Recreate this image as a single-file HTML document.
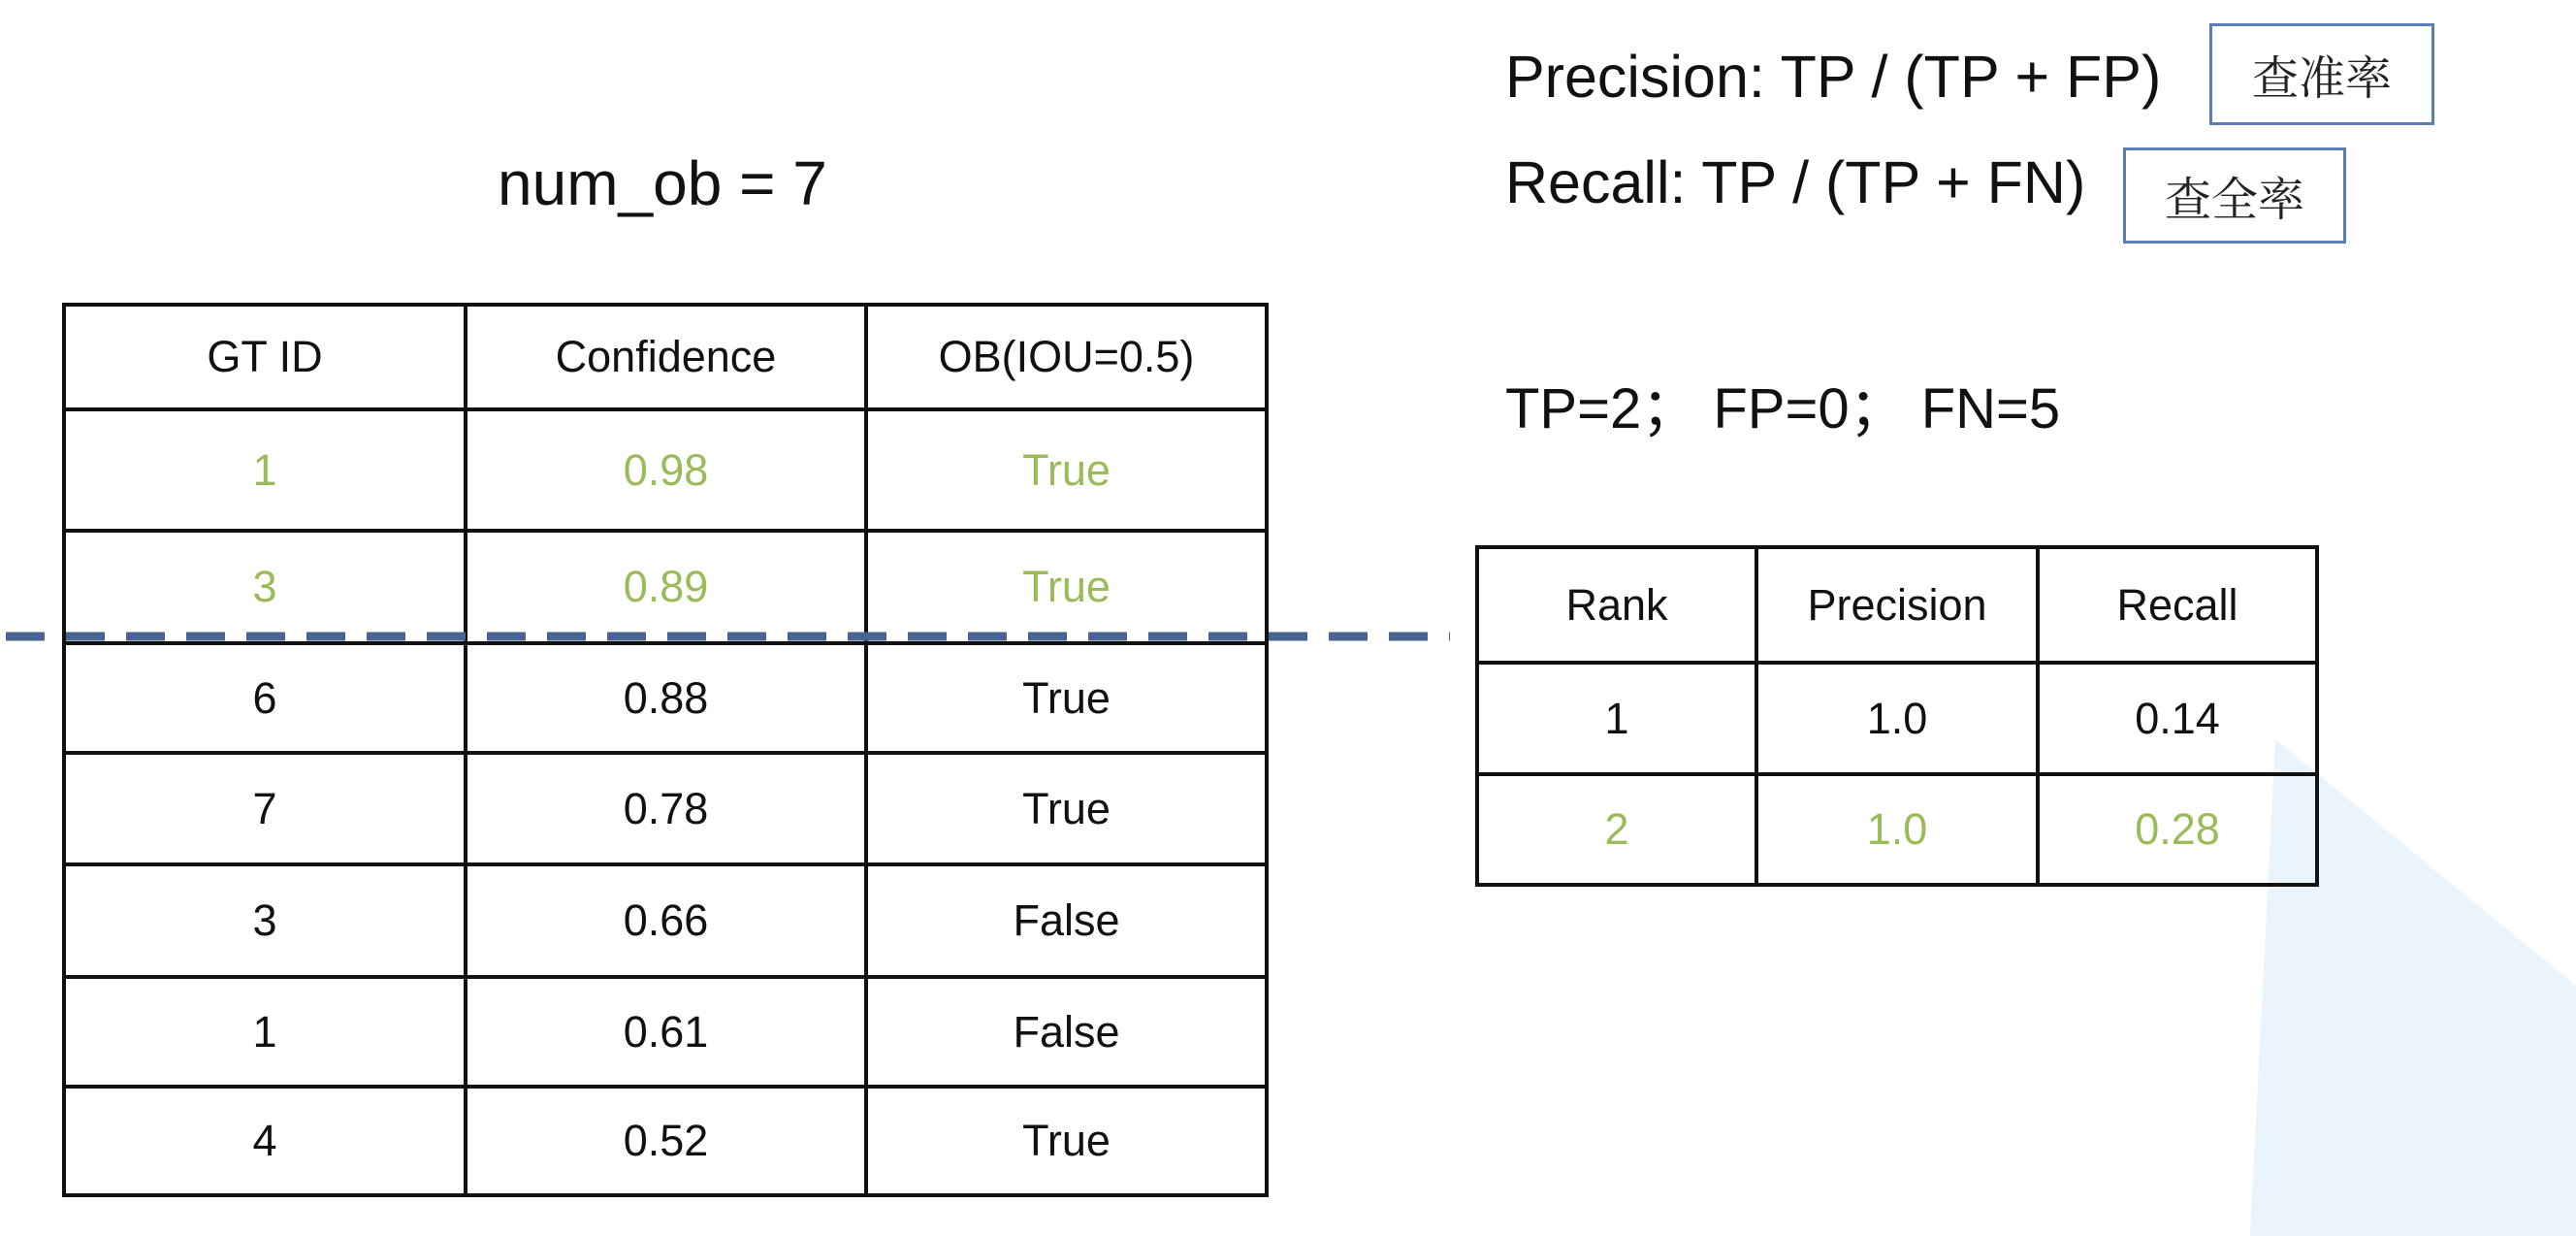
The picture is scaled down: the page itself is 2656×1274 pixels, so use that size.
<!DOCTYPE html>
<html><head><meta charset="utf-8"><style>
body{margin:0;width:2656px;height:1274px;background:#fff;position:relative;overflow:hidden;font-family:"Liberation Sans","Noto Sans CJK SC",sans-serif;color:#111}
.t{position:absolute;white-space:nowrap}
.box{position:absolute;border:3px solid #5b7fb5;box-sizing:border-box;font-family:"Noto Serif CJK SC",serif;font-size:48px;display:flex;align-items:center;justify-content:center;color:#222}
table{position:absolute;border-collapse:collapse;font-size:45px;table-layout:fixed}
td{border:4px solid #111;text-align:center;padding:0}
.g{color:#9bbb59}
</style></head><body>
<svg style="position:absolute;left:0;top:0" width="2656" height="1274"><polygon points="2346,762 2656,1016 2656,1274 2320,1274" fill="#eaf4fc"/></svg>
<div class="t" style="left:513px;top:152px;font-size:64px">num_ob = 7</div>
<table style="left:64px;top:312px;width:1240px">
<colgroup><col style="width:414px"><col style="width:413px"><col style="width:413px"></colgroup>
<tr style="height:108px"><td>GT ID</td><td>Confidence</td><td>OB(IOU=0.5)</td></tr>
<tr style="height:125px" class="g"><td>1</td><td>0.98</td><td>True</td></tr>
<tr style="height:116px" class="g"><td>3</td><td>0.89</td><td>True</td></tr>
<tr style="height:113px"><td>6</td><td>0.88</td><td>True</td></tr>
<tr style="height:115px"><td>7</td><td>0.78</td><td>True</td></tr>
<tr style="height:116px"><td>3</td><td>0.66</td><td>False</td></tr>
<tr style="height:113px"><td>1</td><td>0.61</td><td>False</td></tr>
<tr style="height:112px"><td>4</td><td>0.52</td><td>True</td></tr>
</table>
<svg style="position:absolute;left:0;top:650px" width="1500" height="14"><line x1="6" y1="6" x2="1495" y2="6" stroke="#4a6491" stroke-width="9" stroke-dasharray="40,22"/></svg>
<div class="t" style="left:1552px;top:44px;font-size:61px">Precision: TP / (TP + FP)</div>
<div class="t" style="left:1552px;top:153px;font-size:61px">Recall: TP / (TP + FN)</div>
<div class="box" style="left:2278px;top:24px;width:232px;height:105px">查准率</div>
<div class="box" style="left:2189px;top:152px;width:230px;height:99px">查全率</div>
<div class="t" style="left:1552px;top:374px;font-size:58px">TP=2；&nbsp;FP=0；&nbsp;FN=5</div>
<table style="left:1521px;top:562px;width:866px">
<colgroup><col style="width:288px"><col style="width:290px"><col style="width:288px"></colgroup>
<tr style="height:119px"><td>Rank</td><td>Precision</td><td>Recall</td></tr>
<tr style="height:115px"><td>1</td><td>1.0</td><td>0.14</td></tr>
<tr style="height:114px" class="g"><td>2</td><td>1.0</td><td>0.28</td></tr>
</table>
</body></html>
